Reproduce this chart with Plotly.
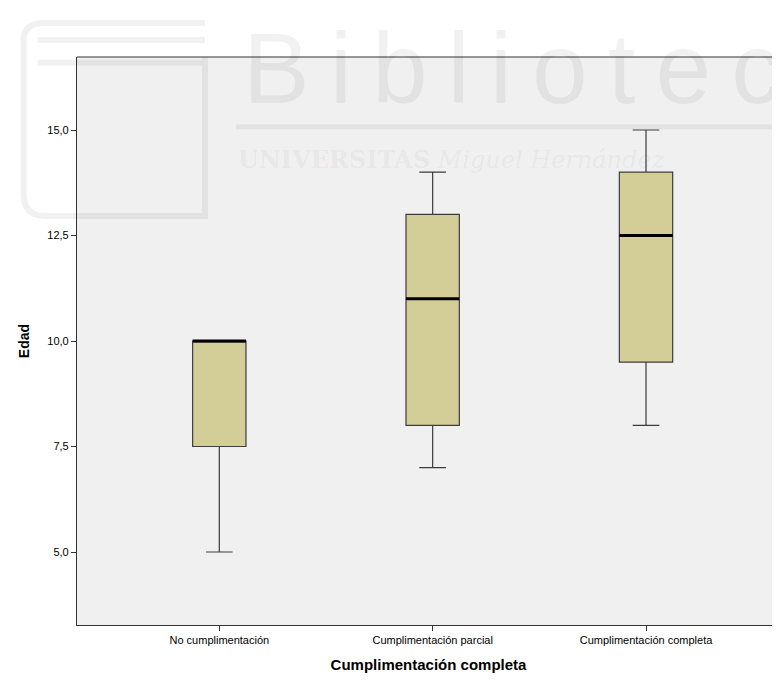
import plotly.graph_objects as go

categories = ["No cumplimentación", "Cumplimentación parcial", "Cumplimentación completa"]
lowerfence = [5.0, 7.0, 8.0]
q1 = [7.5, 8.0, 9.5]
median = [10.0, 11.0, 12.5]
q3 = [10.0, 13.0, 14.0]
upperfence = [10.0, 14.0, 15.0]
ytickvals = [5.0, 7.5, 10.0, 12.5, 15.0]
yticktext = ["5,0", "7,5", "10,0", "12,5", "15,0"]

xpos = list(range(len(categories)))
box_w = 0.25
font = "Liberation Sans, Arial, sans-serif"
wm = "rgba(0,0,0,0.055)"

fig = go.Figure()
fig.add_trace(go.Box(
    x=xpos, q1=q1, median=median, q3=q3,
    lowerfence=lowerfence, upperfence=upperfence,
    width=box_w, whiskerwidth=0.5,
    fillcolor="#D3CE98",
    line=dict(color="#3c3c3c", width=1.2),
    boxpoints=False, showlegend=False, hoverinfo="skip",
))
# thicker median lines
for i, m in zip(xpos, median):
    fig.add_trace(go.Scatter(
        x=[i - box_w / 2, i + box_w / 2], y=[m, m], mode="lines",
        line=dict(color="black", width=3), showlegend=False, hoverinfo="skip",
    ))

# faint library watermark (paper coords; plot area spans page x 77..780)
thin = "\u2009"
fig.add_annotation(text=thin.join("Biblioteca"), xref="paper", yref="paper", x=0.233, y=0.981,
                   xanchor="left", yanchor="middle", showarrow=False,
                   font=dict(family=font, size=100, color=wm))
fig.add_annotation(text="<b>UNIVERSITAS</b> <i>Miguel Hernández</i>", xref="paper", yref="paper",
                   x=0.226, y=0.819, xanchor="left", yanchor="middle", showarrow=False,
                   font=dict(family="DejaVu Serif, serif", size=24, color=wm))
fig.add_shape(type="line", xref="paper", yref="paper", x0=0.226, x1=1, y0=0.877, y1=0.877,
              line=dict(color=wm, width=5))
fig.add_shape(type="path", xref="paper", yref="paper",
              path="M -0.076,1.03 L -0.076,0.76 Q -0.076,0.72 -0.046,0.72 L 0.182,0.72 "
                   "L 0.182,1.0 M -0.076,1.03 Q -0.076,1.06 -0.046,1.06 L 0.182,1.06 "
                   "M -0.056,1.03 L 0.182,1.03 M -0.056,0.99 L 0.182,0.99",
              line=dict(color=wm, width=6))

fig.add_shape(type="line", xref="paper", yref="paper", x0=0, x1=1, y0=1, y1=1,
              line=dict(color="#333", width=1.2))

fig.update_layout(
    width=772, height=665,
    margin=dict(l=69, r=0, t=49, b=48),
    paper_bgcolor="white", plot_bgcolor="#F0F0F0",
    font=dict(family=font, size=11, color="black"),
    xaxis=dict(
        range=[-0.667, 2.628], tickvals=xpos, ticktext=categories,
        showgrid=False, zeroline=False, showline=True, linecolor="#333", linewidth=1.2,
        ticks="outside", ticklen=5, tickcolor="#333",
        tickfont=dict(size=11),
        title=dict(text="<b>Cumplimentación completa</b>", font=dict(size=15), standoff=14),
    ),
    yaxis=dict(
        range=[3.27, 16.73], tickvals=ytickvals, ticktext=yticktext,
        showgrid=False, zeroline=False, showline=True, linecolor="#333", linewidth=1.2,
        ticks="outside", ticklen=5, tickcolor="#333",
        tickfont=dict(size=11),
        title=dict(text="<b>Edad</b>", font=dict(size=14), standoff=14),
    ),
)

fig.write_html("out.html")
